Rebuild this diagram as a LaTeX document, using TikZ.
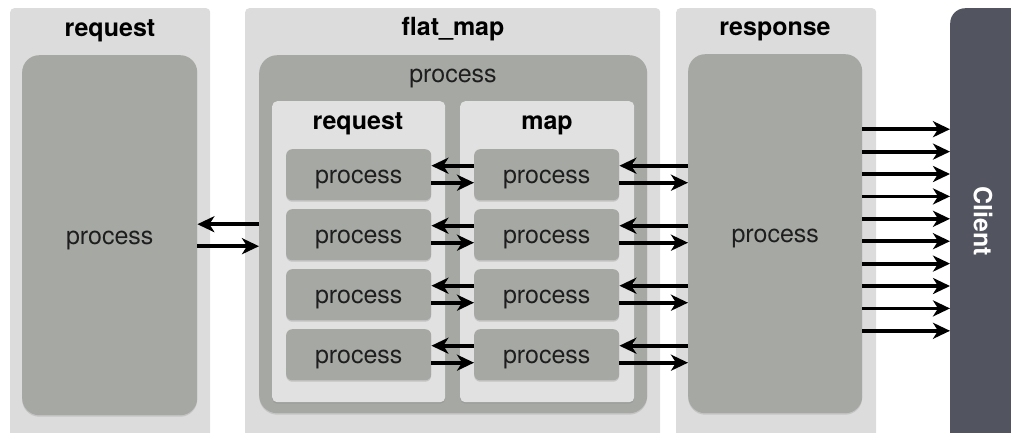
\documentclass[tikz,border=0pt]{standalone}
\usepackage{fontspec}
\setmainfont{TeX Gyre Heros}
\usetikzlibrary{arrows.meta,positioning,shadows}

\definecolor{panelgray}{HTML}{DCDCDC}
\definecolor{procgray}{HTML}{A5A8A3}
\definecolor{boxgray}{HTML}{E1E1E1}
\definecolor{clientgray}{HTML}{52555F}
\definecolor{inkgray}{HTML}{1E1E1E}

\tikzset{
	panel/.style={fill=panelgray, rounded corners=4pt, anchor=north west, inner sep=0pt},
	bigproc/.style={fill=procgray, rounded corners=17pt, anchor=north west, inner sep=0pt,
		drop shadow={shadow xshift=0pt, shadow yshift=-1.5pt, opacity=0.25}},
	subbox/.style={fill=boxgray, rounded corners=5pt, anchor=north west, inner sep=0pt,
		drop shadow={shadow xshift=0pt, shadow yshift=-1.5pt, opacity=0.25}},
	rowproc/.style={fill=procgray, rounded corners=6pt, anchor=north west, inner sep=0pt,
		minimum width=145pt, minimum height=51pt, text=inkgray,
		drop shadow={shadow xshift=0pt, shadow yshift=-1.5pt, opacity=0.3}},
	title/.style={font=\fontsize{25}{29}\selectfont\bfseries, text=black, anchor=base},
	plain/.style={font=\fontsize{25}{29}\selectfont, text=inkgray, text height=18pt, text depth=0pt},
	arr/.style={line width=3.8pt, -{Stealth[length=17pt,width=16pt,inset=5pt]}},
}

\begin{document}
\begin{tikzpicture}[x=1pt,y=-1pt]
		\useasboundingbox (0,0) rectangle (1011,432);
		\clip (0,0) rectangle (1011,432);
		% left: request
		\node[panel, minimum width=200pt, minimum height=440pt] (lpanel) at (10,8) {};
		\node[title] (ltitle) at (110,36) {request};
		\node[bigproc, minimum width=175pt, minimum height=360pt, plain] (lproc) at (22,55) {process};
		% middle: flat_map
		\node[panel, minimum width=415pt, minimum height=440pt] (fpanel) at (245,8) {};
		\node[title] (ftitle) at (453,35.5) {flat\_map};
		\node[bigproc, rounded corners=18pt, minimum width=388pt, minimum height=358pt] (fproc) at (259,55) {};
		\node[font=\fontsize{25}{29}\selectfont, text=inkgray, anchor=base] (flabel) at (453,82) {process};
		\node[subbox, minimum width=173pt, minimum height=301pt] (reqbox) at (272,101) {};
		\node[title] (reqtitle) at (358,129) {request};
		\node[subbox, minimum width=174pt, minimum height=301pt] (mapbox) at (460,101) {};
		\node[title] (maptitle) at (547,129) {map};
		% right: response
		\node[panel, minimum width=200pt, minimum height=440pt] (rpanel) at (676,8) {};
		\node[title] (rtitle) at (775,35.5) {response};
		\node[bigproc, minimum width=174pt, minimum height=359pt, plain] (rproc) at (688,54) {process};
		% client
		\node[fill=clientgray, rounded corners=15pt, anchor=north west, minimum width=90pt,
			minimum height=450pt] (client) at (950,8) {};
		\node[title, anchor=center, text=white, rotate=-90] (clabel) at (983,221) {Client};
		% rows
		\foreach \i in {1,...,4} {
			\node[rowproc, plain] (r\i) at (286,149+60*\i-60) {process};
			\node[rowproc, plain] (m\i) at (474,149+60*\i-60) {process};
			\path ([yshift=9pt]m\i.east) coordinate (ma\i) ([yshift=-8pt]m\i.east) coordinate (mb\i);
			\draw[arr] ([yshift=9pt]m\i.west) -- ([yshift=9pt]r\i.east);
			\draw[arr] ([yshift=-8pt]r\i.east) -- ([yshift=-8pt]m\i.west);
			\draw[arr] (ma\i -| rproc.west) -- (ma\i);
			\draw[arr] (mb\i) -- (mb\i -| rproc.west);
		}
		% request <-> flat_map
		\path ([yshift=10pt]fproc.west) coordinate (fa) ([yshift=-11pt]lproc.east) coordinate (lb);
		\draw[arr] (fa) -- (fa -| lproc.east);
		\draw[arr] (lb) -- (lb -| fproc.west);
		% response -> client
		\foreach \i in {0,...,9}
			\draw[arr] ([yshift=104.5pt-22.4pt*\i]rproc.east) coordinate (o\i) -- (o\i -| client.west);
\end{tikzpicture}
\end{document}
